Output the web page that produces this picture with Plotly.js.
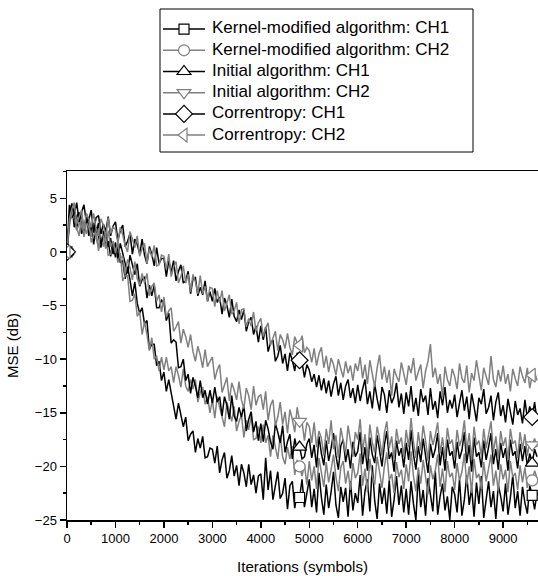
<!DOCTYPE html>
<html>
<head>
<meta charset="utf-8">
<script src="https://cdn.plot.ly/plotly-3.0.1.min.js"></script>
<style>html,body{margin:0;padding:0;background:#fff;}#chart{width:538px;height:576px;}</style>
</head>
<body>
<div id="chart"></div>
<script>
// Iteration sampling step (symbols) of the recorded curves
const iterStep = 50;
// Samples that carry a marker symbol
const markerIdx = [0, 96, 192];

const seriesNames = [
  'Kernel-modified algorithm: CH1',
  'Kernel-modified algorithm: CH2',
  'Initial algorithm: CH1',
  'Initial algorithm: CH2',
  'Correntropy: CH1',
  'Correntropy: CH2'
];

// MSE (dB), one value every 50 symbols
const kernelCH1 = [
  0, 3.2, 4.5, 2.3, 3.3, 3.7, 1.7, 2.2, 3.2, 1.5, 2.4, 0.7, 2.3, 1.5, 0.4, 2.0, 0.4, 1.0, -0.4, 0.8,
  -0.5, 0.5, -1.0, -0.8, -2.5, -1.4, -2.6, -4.1, -2.8, -4.8, -5.7, -5.2, -6.7, -6.4, -9.1, -8.6, -8.6, -10.6, -10.2, -12.0,
  -11.2, -13.0, -11.9, -13.1, -14.5, -15.6, -14.1, -15.1, -16.3, -15.4, -17.6, -17.0, -16.7, -18.7, -17.4, -18.3, -17.2, -19.2, -19.1, -18.3,
  -18.4, -19.7, -18.1, -20.6, -19.4, -18.7, -21.1, -20.4, -19.0, -20.9, -19.9, -21.8, -19.8, -20.6, -21.9, -19.8, -21.7, -20.8, -22.5, -20.9,
  -20.7, -23.1, -19.2, -22.2, -20.4, -23.1, -21.7, -20.5, -23.0, -22.5, -21.1, -24.0, -21.8, -21.4, -23.9, -22.4, -22.9, -21.2, -23.8, -22.3,
  -21.2, -23.8, -22.1, -24.3, -20.6, -22.9, -24.5, -21.7, -23.9, -22.4, -20.5, -23.6, -24.8, -21.9, -23.3, -22.0, -24.7, -21.4, -24.1, -22.5,
  -23.4, -20.8, -24.6, -22.3, -21.2, -24.2, -19.9, -23.2, -24.9, -21.6, -23.5, -22.0, -24.4, -21.3, -24.7, -23.1, -20.9, -23.6, -21.8, -24.3,
  -22.1, -24.5, -21.4, -23.5, -25.0, -20.7, -23.8, -22.2, -24.6, -21.1, -22.5, -24.2, -20.4, -24.5, -22.8, -21.6, -24.1, -22.8, -25.0, -21.9,
  -22.6, -24.3, -21.2, -24.6, -23.1, -20.8, -23.6, -22.0, -24.7, -21.5, -23.5, -20.9, -24.8, -23.3, -21.4, -23.8, -22.3, -24.9, -21.7, -22.8,
  -24.2, -21.6, -24.5, -22.9, -20.8, -23.9, -22.3, -24.6, -21.9, -23.4, -24.4, -21.8, -22.7, -24.0, -22.4
];
const kernelCH2 = [
  0, 2.4, 3.9, 3.1, 2.2, 1.5, 3.3, 2.6, 1.7, 2.8, 0.9, 1.6, 2.0, 0.1, 1.4, 0.5, 1.7, -0.3, -0.2, 0.6,
  0.6, -1.0, -0.1, -2.7, -2.2, -2.2, -4.6, -4.5, -3.9, -6.0, -5.6, -7.7, -6.5, -7.7, -9.2, -8.0, -10.0, -9.7, -11.1, -9.8,
  -11.0, -9.8, -11.1, -10.7, -12.2, -10.7, -11.5, -12.6, -10.9, -12.5, -13.0, -11.9, -12.8, -11.9, -14.0, -13.1, -12.6, -14.2, -13.5, -15.0,
  -13.8, -15.5, -13.5, -14.5, -15.5, -16.3, -14.0, -14.8, -15.8, -14.4, -16.7, -15.8, -15.2, -17.3, -15.7, -16.6, -15.3, -17.5, -17.4, -16.3,
  -17.8, -16.1, -17.8, -17.1, -19.1, -17.1, -18.1, -19.3, -17.1, -19.1, -19.8, -18.2, -19.3, -18.1, -20.8, -19.4, -20.0, -20.9, -19.8, -21.7,
  -19.5, -21.3, -20.0, -22.1, -19.2, -20.8, -21.9, -19.6, -21.5, -20.3, -18.9, -21.0, -22.3, -20.1, -19.5, -21.6, -20.4, -22.2, -19.7, -21.1,
  -20.6, -18.8, -21.8, -20.2, -22.4, -19.3, -20.9, -21.7, -19.1, -20.5, -22.0, -20.0, -18.7, -21.3, -20.7, -22.5, -19.6, -21.0, -20.3, -22.1,
  -19.8, -21.4, -18.6, -20.9, -22.3, -20.1, -21.6, -19.4, -20.8, -22.6, -19.9, -21.2, -20.4, -18.9, -21.9, -20.2, -22.4, -19.5, -21.0, -20.6,
  -22.2, -19.7, -21.3, -20.5, -18.8, -21.7, -20.0, -22.5, -19.3, -21.1, -20.7, -22.1, -19.6, -21.4, -20.2, -18.9, -21.8, -20.4, -22.3, -19.8,
  -21.2, -20.3, -22.4, -19.5, -21.0, -20.6, -22.2, -19.9, -21.5, -20.1, -22.0, -20.8, -21.3, -20.4, -21.1
];
const initialCH1 = [
  0, 4.4, 3.2, 3.6, 2.1, 3.6, 2.9, 1.8, 3.5, 2.0, 1.5, 2.6, 1.8, 2.7, 0.7, 1.6, 2.1, 0.5, 1.3, -0.2,
  0.9, -0.6, 0.8, -0.1, -1.2, -2.0, -0.3, -1.1, -2.1, -1.1, -3.2, -2.6, -2.3, -4.3, -3.1, -4.1, -3.1, -5.2, -5.2, -4.5,
  -4.7, -6.4, -5.7, -8.5, -8.2, -8.4, -10.8, -10.7, -10.0, -12.0, -11.4, -13.2, -11.7, -12.5, -13.6, -12.0, -13.6, -12.9, -14.2, -12.9,
  -14.1, -12.6, -14.0, -13.5, -15.3, -13.5, -14.3, -15.6, -13.4, -15.3, -15.8, -14.5, -15.4, -14.3, -16.7, -15.6, -14.9, -16.8, -15.8, -17.6,
  -16.0, -17.7, -15.7, -16.5, -17.7, -18.4, -16.0, -16.8, -17.8, -16.2, -18.7, -17.7, -17.0, -19.3, -17.4, -18.5, -18.2, -19.3, -19.1, -17.9,
  -17.4, -19.2, -18.0, -20.1, -17.2, -18.8, -19.9, -17.6, -19.5, -18.3, -16.9, -19.0, -20.3, -18.1, -17.5, -19.6, -18.4, -20.2, -17.7, -19.1,
  -18.6, -16.8, -19.8, -18.2, -20.4, -17.3, -18.9, -19.7, -17.1, -18.5, -20.0, -18.0, -16.7, -19.3, -18.7, -20.5, -17.6, -19.0, -18.3, -20.1,
  -17.8, -19.4, -16.6, -18.9, -20.3, -18.1, -19.6, -17.4, -18.8, -20.6, -17.9, -19.2, -18.4, -16.9, -19.9, -18.2, -20.4, -17.5, -19.0, -18.6,
  -20.2, -17.7, -19.3, -18.5, -16.8, -19.7, -18.0, -20.5, -17.3, -19.1, -18.7, -20.1, -17.6, -19.4, -18.2, -16.9, -19.8, -18.4, -20.3, -17.8,
  -19.2, -18.3, -20.4, -17.5, -19.0, -18.6, -20.2, -17.9, -19.5, -18.1, -20.0, -18.8, -19.7, -18.4, -19.1
];
const initialCH2 = [
  0, 2.7, 3.5, 4.1, 2.0, 2.6, 3.2, 1.4, 2.8, 2.3, 1.4, 2.7, 1.3, 0.5, 2.1, 1.4, 0.3, 2.0, 0.5, 1.0,
  -0.1, 0.9, -0.6, -0.4, -2.1, -0.7, -1.5, -2.6, -0.9, -2.5, -3.1, -2.0, -2.9, -2.0, -4.1, -3.2, -2.9, -4.6, -4.0, -5.6,
  -4.2, -6.1, -5.5, -5.2, -7.4, -7.0, -6.5, -8.5, -7.2, -7.9, -8.9, -7.7, -9.3, -10.2, -8.8, -9.6, -10.8, -9.1, -10.7, -10.2,
  -9.8, -11.9, -11.0, -10.5, -13.1, -12.4, -11.7, -13.9, -12.2, -12.9, -13.8, -12.1, -13.8, -14.6, -12.7, -13.4, -14.7, -12.5, -14.3, -13.5,
  -13.3, -14.7, -13.0, -15.7, -14.3, -13.8, -16.2, -15.4, -14.0, -16.1, -14.9, -16.9, -14.7, -15.6, -16.8, -14.5, -15.8, -15.8, -17.6, -15.9,
  -16.3, -17.8, -15.9, -18.2, -16.7, -17.4, -19.0, -16.5, -17.9, -15.7, -18.4, -17.1, -19.2, -16.4, -17.6, -18.8, -16.2, -17.7, -19.1, -16.8,
  -17.5, -15.6, -18.6, -17.0, -19.3, -16.1, -17.8, -18.7, -16.3, -17.4, -19.0, -16.9, -15.8, -18.3, -17.2, -19.4, -16.5, -17.9, -17.3, -19.1,
  -16.6, -18.2, -15.5, -17.7, -19.2, -16.8, -18.5, -16.2, -17.6, -19.5, -16.7, -18.0, -17.1, -15.9, -18.8, -17.3, -19.3, -16.4, -17.9, -17.5,
  -19.2, -16.6, -18.1, -17.4, -15.7, -18.6, -16.9, -19.4, -16.3, -18.0, -17.6, -19.0, -16.5, -18.3, -17.0, -15.8, -18.7, -17.2, -19.3, -16.7,
  -18.1, -17.3, -19.4, -16.5, -17.9, -17.6, -19.2, -16.8, -18.4, -17.0, -19.0, -17.7, -18.0, -17.4, -18.2
];
const correntropyCH1 = [
  0, 3.0, 4.5, 3.5, 4.6, 2.8, 3.7, 4.4, 2.7, 3.0, 3.9, 1.8, 3.2, 3.4, 1.7, 2.6, 1.9, 3.3, 1.5, 2.4,
  2.8, 1.1, 2.0, 2.5, 0.5, 1.0, 1.7, -0.2, 1.2, 0.7, -0.2, 1.2, -0.3, -1.1, 0.5, -0.2, -1.3, 0.4, -1.1, -0.6,
  -0.6, -2.3, -0.8, -1.9, -0.8, -2.7, -1.8, -1.2, -2.9, -2.7, -1.8, -3.9, -2.5, -2.4, -4.1, -3.3, -4.0, -2.7, -4.6, -3.7,
  -4.6, -3.4, -4.7, -4.2, -5.8, -4.3, -5.0, -6.1, -4.4, -6.0, -6.5, -5.4, -6.3, -5.4, -7.4, -6.5, -6.1, -7.7, -6.9, -8.4,
  -6.9, -8.2, -7.0, -9.3, -8.5, -8.2, -10.2, -9.7, -8.7, -10.4, -9.5, -11.1, -9.4, -10.1, -11.1, -9.4, -10.1, -10.3, -11.7, -10.5,
  -11.0, -12.1, -11.4, -12.6, -11.5, -12.9, -11.8, -13.2, -12.0, -13.5, -12.3, -11.6, -13.4, -12.2, -13.8, -12.5, -11.9, -13.6, -12.7, -14.1,
  -12.4, -13.9, -12.8, -11.9, -14.2, -13.0, -14.6, -12.3, -13.7, -14.8, -12.6, -13.3, -15.0, -12.9, -14.1, -13.5, -12.2, -14.5, -13.2, -15.1,
  -13.1, -14.4, -12.5, -14.9, -13.6, -15.3, -12.8, -14.0, -13.4, -15.2, -12.7, -14.7, -13.9, -15.5, -13.0, -14.3, -12.6, -15.0, -13.8, -14.6,
  -13.3, -15.4, -14.1, -12.9, -14.8, -13.5, -15.6, -13.2, -14.4, -15.8, -13.6, -14.2, -12.8, -15.1, -14.5, -13.4, -15.7, -14.0, -13.1, -15.3,
  -14.3, -15.9, -13.7, -14.9, -16.1, -13.9, -15.2, -14.6, -16.0, -13.8, -15.5, -14.4, -15.4, -14.0, -15.8
];
const correntropyCH2 = [
  0, 3.1, 4.0, 4.6, 2.6, 3.2, 3.9, 2.1, 3.6, 3.1, 2.3, 3.6, 2.2, 1.5, 3.1, 2.5, 1.4, 3.2, 1.7, 2.3,
  2.1, 0.8, 2.3, 1.6, 0.6, 0.0, 1.9, 1.2, 0.4, 1.5, -0.4, 0.3, 0.8, -1.1, 0.3, -0.5, 0.6, -1.3, -1.2, -0.3,
  -0.4, -1.6, -0.2, -2.3, -1.4, -0.9, -2.9, -2.3, -1.3, -2.9, -2.1, -3.7, -2.1, -2.8, -3.9, -2.2, -3.9, -3.2, -4.6, -3.3,
  -3.4, -5.1, -3.6, -4.7, -3.6, -5.5, -4.7, -4.0, -5.8, -5.5, -4.7, -6.7, -5.4, -5.3, -7.0, -6.2, -6.9, -5.6, -7.4, -6.6,
  -6.2, -7.9, -7.1, -6.6, -8.7, -8.1, -7.4, -9.2, -7.7, -8.2, -9.0, -7.6, -8.9, -9.6, -7.9, -8.5, -8.7, -7.8, -9.4, -8.9,
  -9.2, -10.3, -9.0, -10.6, -9.5, -8.9, -10.8, -9.7, -11.2, -9.9, -10.5, -11.5, -10.0, -10.9, -11.7, -10.2, -11.3, -10.6, -12.0, -10.4,
  -11.1, -9.8, -11.8, -10.5, -12.3, -10.1, -11.4, -12.6, -10.8, -9.6, -11.9, -10.7, -12.2, -11.0, -13.4, -10.9, -11.6, -12.1, -10.3, -11.5,
  -12.4, -10.6, -11.3, -9.9, -12.0, -11.2, -10.5, -12.7, -11.1, -10.2, -8.6, -11.7, -10.8, -12.3, -11.4, -13.6, -10.7, -11.9, -12.5, -10.9,
  -11.6, -12.8, -10.4, -11.8, -12.2, -10.6, -13.1, -11.3, -12.0, -10.1, -11.7, -12.9, -10.8, -11.5, -12.4, -9.7, -11.9, -12.6, -11.0, -12.1,
  -10.6, -12.3, -11.4, -13.0, -10.9, -11.8, -12.5, -10.7, -11.6, -12.2, -10.8, -12.7, -11.5, -11.2, -12.0
];

const allSeries = [kernelCH1, kernelCH2, initialCH1, initialCH2, correntropyCH1, correntropyCH2];
const iterations = kernelCH1.map((_, i) => i * iterStep);

const BLACK = '#000000';
const GRAY = '#808080';
const styles = [
  {color: BLACK, symbol: 'square', size: 10},
  {color: GRAY, symbol: 'circle', size: 11},
  {color: BLACK, symbol: 'triangle-up', size: 12},
  {color: GRAY, symbol: 'triangle-down', size: 12},
  {color: BLACK, symbol: 'diamond', size: 13},
  {color: GRAY, symbol: 'triangle-left', size: 12}
];

const traces = [];
allSeries.forEach((ys, k) => {
  traces.push({
    type: 'scatter', mode: 'lines', x: iterations, y: ys,
    line: {color: styles[k].color, width: 1.5},
    showlegend: false, hoverinfo: 'skip'
  });
});
allSeries.forEach((ys, k) => {
  const mx = [], my = [];
  markerIdx.forEach((idx, j) => {
    if (j > 0) { mx.push(null); my.push(null); }
    mx.push(iterations[idx]); my.push(ys[idx]);
  });
  traces.push({
    type: 'scatter', mode: 'lines+markers', x: mx, y: my,
    name: '',
    connectgaps: false,
    line: {color: styles[k].color, width: 1.5},
    marker: {symbol: styles[k].symbol, size: styles[k].size, color: '#ffffff',
             line: {color: styles[k].color, width: 1.2}},
    hoverinfo: 'skip'
  });
});

// ---- layout geometry (pixels) ----
const W = 538, H = 576;
const plotL = 67, plotT = 171, plotB = 520;
const plotH = plotB - plotT, plotW = W - plotL;
const pxX = px => (px - plotL) / plotW;        // pixel -> paper x
const pxY = py => 1 + (plotT - py) / plotH;    // pixel -> paper y
const legRow0 = 28, legRowGap = 21.2;

const fontFam = '"Liberation Sans", Arial, sans-serif';
const legendText = seriesNames.map((name, k) => ({
  text: name, showarrow: false, xref: 'paper', yref: 'paper',
  x: pxX(210), y: pxY(legRow0 + k * legRowGap), xanchor: 'left', yanchor: 'middle',
  font: {family: fontFam, size: 17, color: '#000'}
}));

const xr = [0, 9720], yr = [-25, 7.55];
const layout = {
  width: W, height: H,
  margin: {l: plotL, r: 0, t: plotT, b: H - plotB, pad: 0},
  paper_bgcolor: '#ffffff', plot_bgcolor: '#ffffff',
  font: {family: fontFam, size: 13, color: '#000'},
  showlegend: true,
  legend: {
    x: pxX(158), xanchor: 'left', y: pxY(13.5), yanchor: 'top',
    borderwidth: 0, bgcolor: 'rgba(0,0,0,0)',
    font: {family: fontFam, size: 14, color: '#000'},
    itemwidth: 42, traceorder: 'normal'
  },
  annotations: legendText,
  shapes: [{
    type: 'rect', xref: 'paper', yref: 'paper',
    x0: pxX(160), x1: pxX(473), y0: pxY(152), y1: pxY(9),
    line: {color: '#000', width: 1}, fillcolor: 'rgba(0,0,0,0)', layer: 'below'
  }],
  xaxis: {
    range: xr, tick0: 0, dtick: 1000, ticks: 'outside', ticklen: 6, tickwidth: 1.5, tickcolor: '#000',
    showline: true, linewidth: 1.5, linecolor: '#000', mirror: true,
    showgrid: false, zeroline: false, tickfont: {size: 13},
    minor: {dtick: 500, tick0: 0, ticks: 'outside', ticklen: 3, tickwidth: 1.5, tickcolor: '#000', showgrid: false},
    title: {text: 'Iterations (symbols)', font: {size: 15}, standoff: 16}
  },
  yaxis: {
    range: yr, tick0: 0, dtick: 5, ticks: 'outside', ticklen: 6, tickwidth: 1.5, tickcolor: '#000',
    showline: true, linewidth: 1.5, linecolor: '#000', mirror: true,
    showgrid: false, zeroline: false, tickfont: {size: 13},
    minor: {dtick: 2.5, tick0: 0, ticks: 'outside', ticklen: 3, tickwidth: 1.5, tickcolor: '#000', showgrid: false},
    title: {text: 'MSE (dB)', font: {size: 15}, standoff: 12}
  },
  xaxis2: {
    overlaying: 'x', side: 'top', anchor: 'y', range: xr, tick0: 0, dtick: 1000,
    ticks: 'inside', ticklen: 7, tickwidth: 1.5, tickcolor: '#000',
    showticklabels: false, showline: false, showgrid: false, zeroline: false,
    minor: {dtick: 500, tick0: 0, ticks: 'inside', ticklen: 4, tickwidth: 1.5, tickcolor: '#000', showgrid: false}
  },
  yaxis2: {
    overlaying: 'y', side: 'right', anchor: 'x', range: yr, tick0: 0, dtick: 5,
    ticks: 'inside', ticklen: 7, tickwidth: 1.5, tickcolor: '#000',
    showticklabels: false, showline: false, showgrid: false, zeroline: false,
    minor: {dtick: 2.5, tick0: 0, ticks: 'inside', ticklen: 4, tickwidth: 1.5, tickcolor: '#000', showgrid: false}
  }
};

Plotly.newPlot('chart', traces, layout, {displayModeBar: false, staticPlot: true});
</script>
</body>
</html>
